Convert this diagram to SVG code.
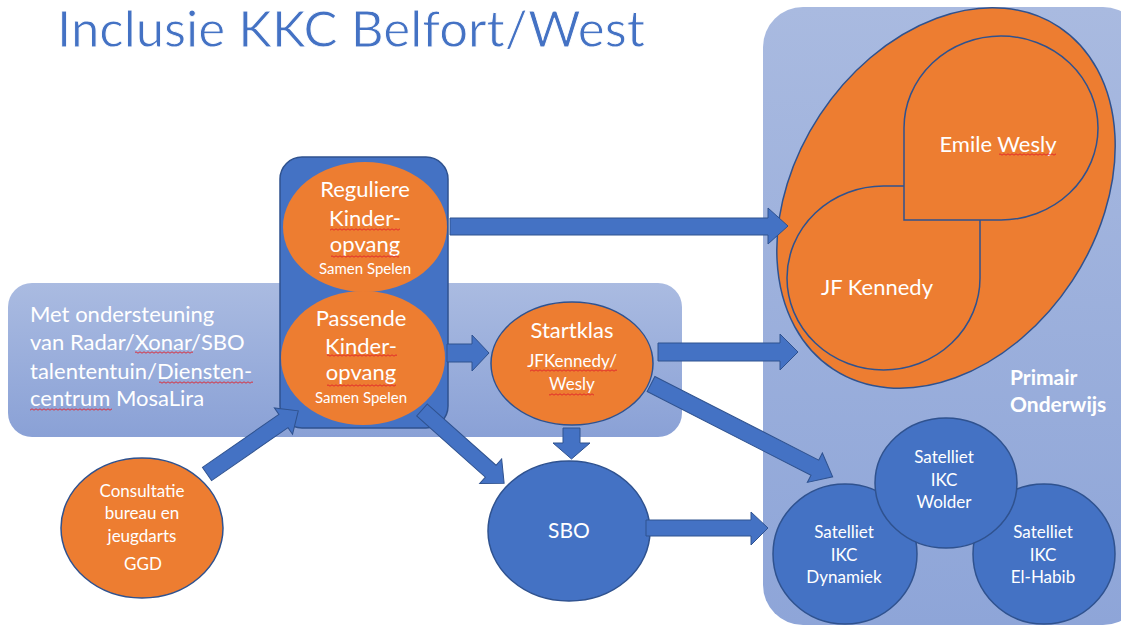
<svg xmlns="http://www.w3.org/2000/svg" width="1121" height="627" viewBox="0 0 1121 627">
  <defs>
    <linearGradient id="gLight" x1="0" y1="0" x2="0" y2="1">
      <stop offset="0" stop-color="#aabbe1"/>
      <stop offset="1" stop-color="#8aa1d6"/>
    </linearGradient>
    <linearGradient id="gPanel" x1="0" y1="0" x2="0" y2="1">
      <stop offset="0" stop-color="#a9bae0"/>
      <stop offset="1" stop-color="#8ea5d8"/>
    </linearGradient>
    <pattern id="wavy" patternUnits="userSpaceOnUse" x="0" y="0" width="4" height="3">
      <path d="M0,0.8 L2,2.2 L4,0.8" fill="none" stroke="#e0202a" stroke-width="0.9"/>
    </pattern>
  </defs>
  <style>
    text { font-family: Lato, "Open Sans", "Liberation Sans", sans-serif; fill: #ffffff; }
    .c { text-anchor: middle; }
    .orange { fill: #ed7d31; stroke: #2f528f; stroke-width: 1.5; }
    .blue { fill: #4472c4; stroke: #2f528f; stroke-width: 1.5; }
    .arrow { fill: #4472c4; stroke: #2f528f; stroke-width: 1; }
    .t22 { font-size: 22px; }
    .t17 { font-size: 17px; }
    .t15 { font-size: 15px; }
    .sc { fill: url(#wavy); }
  </style>

  <rect width="1121" height="627" fill="#ffffff"/>

  <text x="57" y="47" textLength="588" lengthAdjust="spacingAndGlyphs" style="font-size:50px; fill:#4472c4; stroke:#ffffff; stroke-width:0.9">Inclusie KKC Belfort/West</text>

  <g id="primair-onderwijs">
    <rect x="763" y="7" width="380" height="618" rx="40" fill="url(#gPanel)"/>
    <text x="1010" y="385" style="font-size:21px; font-weight:bold">Primair</text>
    <text x="1010" y="412" style="font-size:21px; font-weight:bold">Onderwijs</text>
  </g>

  <g id="scholen">
    <ellipse cx="946" cy="198" rx="205" ry="151" transform="rotate(-56.6 946 198)" class="orange"/>
  </g>
  <g id="jf-kennedy">
    <path d="M980,186 V278 A96.5,92 0 0 1 883.5,370 A96.5,92 0 0 1 787,278 A96.5,92 0 0 1 883.5,186 Z" class="orange"/>
    <text x="877" y="295" class="c t22">JF Kennedy</text>
  </g>
  <g id="emile-wesly">
    <path d="M904,220 V128 A97,92 0 0 1 1001,36 A97,92 0 0 1 1098,128 A97,92 0 0 1 1001,220 Z" class="orange"/>
    <text x="998" y="152" class="c t22">Emile Wesly</text>
    <rect x="999" y="153" width="57" height="3" class="sc"/>
  </g>

  <g id="satelliet-dynamiek">
    <ellipse cx="845" cy="554" rx="72" ry="70" class="blue"/>
    <text x="844" y="538" class="c t17">Satelliet</text>
    <text x="844" y="561" class="c t17">IKC</text>
    <text x="844" y="583" class="c t17">Dynamiek</text>
  </g>
  <g id="satelliet-el-habib">
    <ellipse cx="1044" cy="554" rx="71" ry="70" class="blue"/>
    <text x="1043" y="538" class="c t17">Satelliet</text>
    <text x="1043" y="561" class="c t17">IKC</text>
    <text x="1043" y="583" class="c t17">El-Habib</text>
  </g>
  <g id="satelliet-wolder">
    <ellipse cx="946" cy="483" rx="71" ry="65" class="blue"/>
    <text x="944" y="463" class="c t17">Satelliet</text>
    <text x="944" y="486" class="c t17">IKC</text>
    <text x="944" y="508" class="c t17">Wolder</text>
  </g>

  <g id="ondersteuning">
    <rect x="8" y="283" width="674" height="154" rx="24" fill="url(#gLight)"/>
    <text x="30" y="322" class="t22">Met ondersteuning</text>
    <text x="30" y="350" class="t22">van Radar/Xonar/SBO</text>
    <text x="30" y="379" class="t22">talententuin/Diensten-</text>
    <text x="30" y="406" class="t22">centrum MosaLira</text>
    <rect x="135" y="351" width="58" height="3" class="sc"/>
    <rect x="159" y="381" width="94" height="3" class="sc"/>
    <rect x="30" y="408" width="82" height="3" class="sc"/>
  </g>

  <g id="kinderopvang">
    <rect x="280" y="157" width="168" height="271" rx="22" class="blue"/>
  </g>
  <g id="reguliere-kinderopvang">
    <ellipse cx="365" cy="227" rx="82" ry="65" fill="#ed7d31"/>
    <text x="365" y="197" class="c t22">Reguliere</text>
    <text x="365" y="226" class="c t22">Kinder-</text>
    <text x="365" y="252" class="c t22">opvang</text>
    <text x="365" y="274" class="c t15">Samen Spelen</text>
    <rect x="330" y="228" width="70" height="3" class="sc"/>
    <rect x="331" y="255" width="68" height="3" class="sc"/>
  </g>
  <g id="passende-kinderopvang">
    <ellipse cx="363" cy="358" rx="82" ry="67" fill="#ed7d31"/>
    <text x="361" y="326" class="c t22">Passende</text>
    <text x="361" y="354" class="c t22">Kinder-</text>
    <text x="361" y="380" class="c t22">opvang</text>
    <text x="361" y="403" class="c t15">Samen Spelen</text>
    <rect x="327" y="354" width="70" height="3" class="sc"/>
    <rect x="327" y="384" width="69" height="3" class="sc"/>
  </g>

  <g id="startklas">
    <ellipse cx="572" cy="363.5" rx="81" ry="61.5" class="orange"/>
    <text x="572" y="338" class="c t22">Startklas</text>
    <text x="572" y="367" class="c t17">JFKennedy/</text>
    <text x="572" y="390" class="c t17">Wesly</text>
    <rect x="530" y="369" width="87" height="3" class="sc"/>
    <rect x="549" y="393" width="45" height="3" class="sc"/>
  </g>

  <g id="consultatiebureau">
    <ellipse cx="142" cy="528" rx="81" ry="70" class="orange"/>
    <text x="142" y="497" class="c t17">Consultatie</text>
    <text x="142" y="519" class="c t17">bureau en</text>
    <text x="142" y="542" class="c t17">jeugdarts</text>
    <text x="143" y="570" class="c t17">GGD</text>
  </g>

  <g id="sbo">
    <ellipse cx="569" cy="531" rx="81" ry="70" class="blue"/>
    <text x="569" y="538" class="c" style="font-size:21px">SBO</text>
  </g>

  <g id="connectors">
    <polygon class="arrow" points="450,218 768,218 768,208 788,226 768,244 768,235 450,235"/>
    <polygon class="arrow" points="447,344 472,344 472,335 489,353 472,371 472,362 447,362"/>
    <polygon class="arrow" points="658,343 780,343 780,334 798,352 780,370 780,361 658,361"/>
    <polygon class="arrow" points="563,428 580,428 580,443 590,443 571.5,459 553,443 563,443"/>
    <polygon class="arrow" points="646,520 751,520 751,512 768,528 751,545 751,536 646,536"/>
    <polygon class="arrow" transform="translate(651 384) rotate(27.06)" points="0,-8.5 184,-8.5 184,-16.5 204,0 184,16.5 184,8.5 0,8.5"/>
    <polygon class="arrow" transform="translate(422 410) rotate(41.7)" points="0,-8 92,-8 92,-16.5 110,0 92,16.5 92,8 0,8"/>
    <polygon class="arrow" transform="translate(207 474) rotate(-34.7)" points="0,-8 93,-8 93,-16 111,0 93,16 93,8 0,8"/>
  </g>
</svg>
